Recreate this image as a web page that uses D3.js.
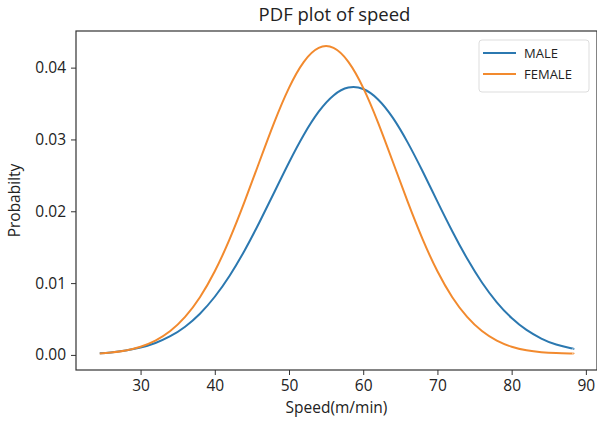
<!DOCTYPE html>
<html>
<head>
<meta charset="utf-8">
<script src="https://cdn.jsdelivr.net/npm/d3@7"></script>
<style>
  body { margin: 0; background: #fff; }
  svg text { font-family: "Open Sans", sans-serif; fill: #222; }
</style>
</head>
<body>
<div id="chart"></div>
<script>
// speed values (m/min) where the curves were read
var speeds = [24.5, 26, 28, 30, 32, 34, 36, 38, 40, 42, 44, 46, 48, 50, 52, 54, 56,
              58, 60, 62, 64, 66, 68, 70, 72, 74, 76, 78, 80, 82, 84, 86, 88, 88.3];
var maleProb = [0.00023, 0.00035, 0.00061, 0.00102, 0.00166, 0.0026, 0.00393, 0.00574,
                0.0081, 0.01103, 0.01451, 0.01844, 0.02262, 0.0268, 0.03066, 0.03387,
                0.03613, 0.03722, 0.03702, 0.03557, 0.033, 0.02956, 0.02557, 0.02135,
                0.01723, 0.01342, 0.01009, 0.00733, 0.00514, 0.00348, 0.00228, 0.00144,
                0.00092, 0.00086];
var femaleProb = [0.0002, 0.00033, 0.00062, 0.00114, 0.00199, 0.00332, 0.00529, 0.00803,
                  0.01164, 0.01612, 0.0213, 0.02686, 0.03235, 0.03719, 0.04081, 0.04275,
                  0.04275, 0.04081, 0.03719, 0.03235, 0.02686, 0.0213, 0.01612, 0.01164,
                  0.00803, 0.00529, 0.00332, 0.00199, 0.00114, 0.00064, 0.00038, 0.00026,
                  0.00021, 0.0002];
var seriesNames = ["MALE", "FEMALE"];
var colors = ["#2b78b0", "#f28a2e"];
var xTicks = [30, 40, 50, 60, 70, 80, 90];
var yTicks = [0, 0.01, 0.02, 0.03, 0.04];

var W = 597, H = 423;
var margin = {top: 31, right: 0, bottom: 53, left: 76};
var width = W - margin.left - margin.right,
    height = H - margin.top - margin.bottom;

var svg = d3.select("#chart").append("svg")
  .attr("width", W).attr("height", H);
var g = svg.append("g")
  .attr("transform", "translate(" + margin.left + "," + margin.top + ")");

var x = d3.scaleLinear().domain([21.3, 91.5]).range([0, width]);
var y = d3.scaleLinear().domain([-0.0021, 0.0451]).range([height, 0]);

// axes
var xAxis = g.append("g")
  .attr("transform", "translate(0," + height + ")")
  .call(d3.axisBottom(x).tickValues(xTicks).tickSize(5).tickPadding(4).tickFormat(d3.format("d")));
var yAxis = g.append("g")
  .call(d3.axisLeft(y).tickValues(yTicks).tickSize(5).tickPadding(5).tickFormat(d3.format(".2f")));
[xAxis, yAxis].forEach(function(a) {
  a.select(".domain").remove();
  a.selectAll("line").attr("stroke", "#333");
  a.selectAll("text").style("font-size", "15.5px").attr("fill", "#222");
});
xAxis.selectAll("text").attr("dy", "0.78em");

// frame
g.append("rect")
  .attr("width", width).attr("height", height)
  .attr("fill", "none").attr("stroke", "#333").attr("stroke-width", 1.2);

// curves
var line = d3.line()
  .x(function(d) { return x(d[0]); })
  .y(function(d) { return y(d[1]); })
  .curve(d3.curveNatural);
[maleProb, femaleProb].forEach(function(vals, i) {
  g.append("path")
    .datum(speeds.map(function(s, j) { return [s, vals[j]]; }))
    .attr("fill", "none")
    .attr("stroke", colors[i])
    .attr("stroke-width", 2)
    .attr("d", line);
});

// title and labels
svg.append("text")
  .attr("x", margin.left + width / 2 - 2).attr("y", 21)
  .attr("text-anchor", "middle").style("font-size", "18.5px")
  .text("PDF plot of speed");
svg.append("text")
  .attr("x", margin.left + width / 2).attr("y", 413)
  .attr("text-anchor", "middle").style("font-size", "15.5px")
  .text("Speed(m/min)");
svg.append("text")
  .attr("transform", "translate(20," + (margin.top + height / 2) + ")rotate(-90)")
  .attr("text-anchor", "middle").style("font-size", "15.5px")
  .text("Probabilty");

// legend
var lg = svg.append("g").attr("transform", "translate(479,40)");
lg.append("rect")
  .attr("width", 110).attr("height", 52).attr("rx", 3)
  .attr("fill", "#fff").attr("stroke", "#ddd");
seriesNames.forEach(function(name, i) {
  var ly = 13 + i * 21;
  lg.append("line")
    .attr("x1", 4).attr("x2", 37).attr("y1", ly).attr("y2", ly)
    .attr("stroke", colors[i]).attr("stroke-width", 2);
  lg.append("text")
    .attr("x", 45).attr("y", ly + 4.5)
    .style("font-size", "13px")
    .text(name);
});
</script>
</body>
</html>
